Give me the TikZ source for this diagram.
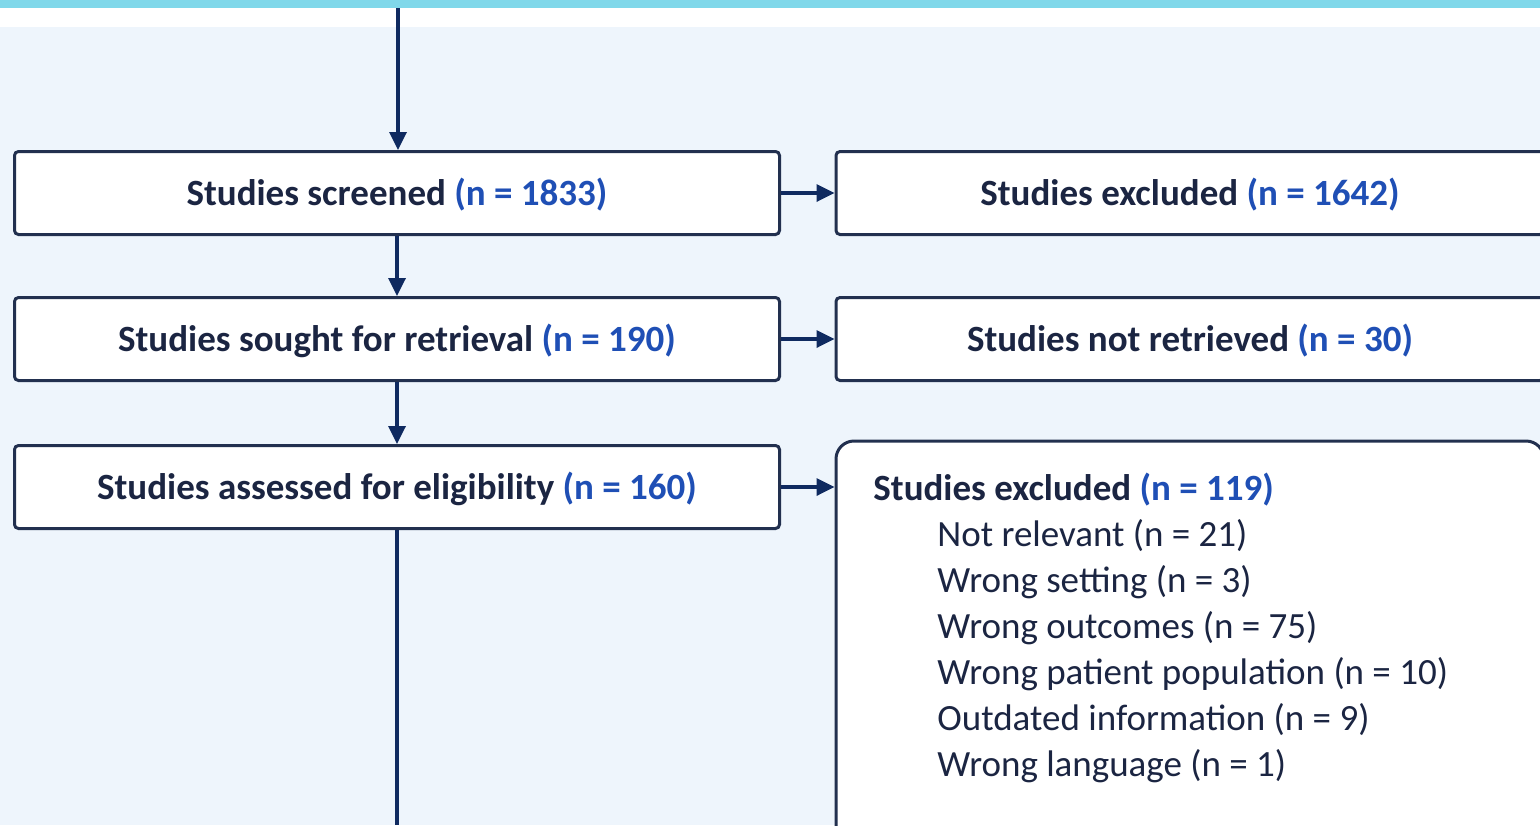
\documentclass[tikz,border=0pt]{standalone}
\usepackage{fontspec}
\setmainfont{Carlito}
\usepackage{xcolor}
\usetikzlibrary{arrows.meta}
\definecolor{band}{HTML}{80D8EA}
\definecolor{canvas}{HTML}{EEF5FC}
\definecolor{navy}{HTML}{22304F}
\definecolor{arrowblue}{HTML}{0F2A60}
\definecolor{numblue}{HTML}{1F4FB5}
\definecolor{ink}{HTML}{1B2542}

\begin{document}
\begin{tikzpicture}[x=0.5pt, y=-0.5pt,
    box/.style={rectangle, rounded corners=2pt, draw=navy, fill=white, line width=1.5pt, minimum width=382.5pt, minimum height=41.5pt, inner sep=0pt, text depth=1.5pt, text centered, text=ink, font=\fontsize{18.5}{23}\selectfont\bfseries},
    sidebox/.style={box, minimum width=354pt},
    listbox/.style={rectangle, rounded corners=9pt, draw=navy, fill=white, line width=1.5pt, minimum width=354pt, minimum height=202pt, inner sep=0pt},
    arr/.style={-{Triangle[length=9pt, width=8.5pt]}, line width=1.7pt, color=arrowblue}
]
    \useasboundingbox (0,0) rectangle (1540,825);
    \clip (0,0) rectangle (1540,825);
    \fill[canvas] (0,27) rectangle (1540,825);
    \fill[white] (0,8) rectangle (1540,27);
    \fill[band] (0,0) rectangle (1540,8);

    \coordinate (top) at (398,8);
    \coordinate (bottom) at (397,825);

    \node[box] (screened) at (397,193) {Studies screened \textcolor{numblue}{(n = 1833)}};
    \node[box] (sought) at (397,339) {Studies sought for retrieval \textcolor{numblue}{(n = 190)}};
    \node[box] (assessed) at (397,487) {Studies assessed for eligibility \textcolor{numblue}{(n = 160)}};

    \node[sidebox] (excluded) at (1190,193) {Studies excluded \textcolor{numblue}{(n = 1642)}};
    \node[sidebox] (notret) at (1190,339) {Studies not retrieved \textcolor{numblue}{(n = 30)}};
    \node[listbox] (reasons) at (1190,643) {};

    \node[anchor=north west, align=left, inner sep=0pt, text=ink, font=\fontsize{18.5}{23}\selectfont] (reasonlist) at (873,473) {%
        {\bfseries Studies excluded \textcolor{numblue}{(n = 119)}}\\
        \hspace*{32pt}Not relevant (n = 21)\\
        \hspace*{32pt}Wrong setting (n = 3)\\
        \hspace*{32pt}Wrong outcomes (n = 75)\\
        \hspace*{32pt}Wrong patient population (n = 10)\\
        \hspace*{32pt}Outdated information (n = 9)\\
        \hspace*{32pt}Wrong language (n = 1)};

    \draw[arr] (top) -- (top |- screened.north);
    \draw[arr] (screened) -- (sought);
    \draw[arr] (sought) -- (assessed);
    \draw[arr] (screened) -- (excluded);
    \draw[arr] (sought) -- (notret);
    \draw[arr] (assessed.east) -- (assessed.east -| reasons.west);
    \draw[line width=1.7pt, arrowblue] (assessed) -- (bottom);
\end{tikzpicture}
\end{document}
